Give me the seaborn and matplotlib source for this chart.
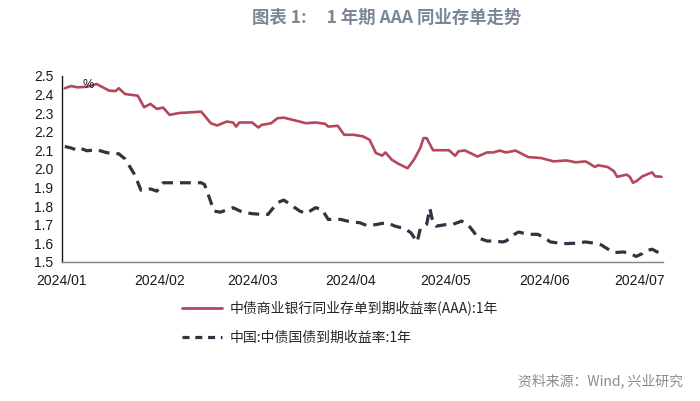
import pandas as pd
import numpy as np
import matplotlib
matplotlib.use("Agg")
import matplotlib.pyplot as plt
import matplotlib.dates as mdates
from matplotlib.ticker import FormatStrFormatter
from matplotlib.lines import Line2D
import seaborn as sns

# ---- data ----
ncd_dates = ["2024-01-02", "2024-01-04", "2024-01-06", "2024-01-09", "2024-01-12", "2024-01-14",
             "2024-01-16", "2024-01-18", "2024-01-19", "2024-01-21", "2024-01-25", "2024-01-27",
             "2024-01-29", "2024-01-31", "2024-02-02", "2024-02-04", "2024-02-07", "2024-02-14",
             "2024-02-17", "2024-02-19", "2024-02-22", "2024-02-24", "2024-02-25", "2024-02-26",
             "2024-03-01", "2024-03-03", "2024-03-04", "2024-03-07", "2024-03-09", "2024-03-11",
             "2024-03-16", "2024-03-18", "2024-03-21", "2024-03-24", "2024-03-25", "2024-03-28",
             "2024-03-30", "2024-04-02", "2024-04-05", "2024-04-07", "2024-04-09", "2024-04-11",
             "2024-04-12", "2024-04-14", "2024-04-16", "2024-04-19", "2024-04-21", "2024-04-23",
             "2024-04-24", "2024-04-25", "2024-04-27", "2024-05-02", "2024-05-04", "2024-05-05",
             "2024-05-07", "2024-05-11", "2024-05-14", "2024-05-16", "2024-05-18", "2024-05-20",
             "2024-05-23", "2024-05-27", "2024-05-31", "2024-06-04", "2024-06-08", "2024-06-11",
             "2024-06-14", "2024-06-15", "2024-06-17", "2024-06-18", "2024-06-21", "2024-06-23",
             "2024-06-24", "2024-06-27", "2024-06-28", "2024-06-29", "2024-06-30", "2024-07-02",
             "2024-07-05", "2024-07-06", "2024-07-08"]
ncd_values = [2.433, 2.445, 2.438, 2.441, 2.456, 2.438,
              2.420, 2.418, 2.433, 2.402, 2.393, 2.331,
              2.349, 2.322, 2.329, 2.290, 2.300, 2.307,
              2.245, 2.233, 2.254, 2.249, 2.227, 2.249,
              2.249, 2.222, 2.236, 2.245, 2.272, 2.275,
              2.254, 2.245, 2.249, 2.242, 2.227, 2.231,
              2.183, 2.183, 2.174, 2.156, 2.085, 2.071,
              2.088, 2.049, 2.028, 2.003, 2.049, 2.112,
              2.165, 2.165, 2.100, 2.100, 2.070, 2.094,
              2.099, 2.066, 2.088, 2.088, 2.098, 2.088,
              2.098, 2.063, 2.058, 2.040, 2.045, 2.035,
              2.040, 2.031, 2.010, 2.019, 2.010, 1.987,
              1.957, 1.969, 1.957, 1.925, 1.933, 1.960,
              1.981, 1.960, 1.957]

gov_dates = ["2024-01-02", "2024-01-04", "2024-01-06", "2024-01-07", "2024-01-09", "2024-01-12",
             "2024-01-15", "2024-01-17", "2024-01-19", "2024-01-21", "2024-01-24", "2024-01-26",
             "2024-01-29", "2024-01-31", "2024-02-02", "2024-02-14", "2024-02-15", "2024-02-16",
             "2024-02-18", "2024-02-20", "2024-02-24", "2024-02-27", "2024-03-01", "2024-03-04",
             "2024-03-06", "2024-03-09", "2024-03-11", "2024-03-13", "2024-03-16", "2024-03-18",
             "2024-03-21", "2024-03-23", "2024-03-25", "2024-03-29", "2024-03-31", "2024-04-04",
             "2024-04-06", "2024-04-09", "2024-04-11", "2024-04-13", "2024-04-15", "2024-04-18",
             "2024-04-20", "2024-04-22", "2024-04-23", "2024-04-25", "2024-04-26", "2024-04-27",
             "2024-04-28", "2024-05-01", "2024-05-03", "2024-05-06", "2024-05-08", "2024-05-10",
             "2024-05-11", "2024-05-14", "2024-05-16", "2024-05-19", "2024-05-20", "2024-05-23",
             "2024-05-24", "2024-05-27", "2024-05-30", "2024-06-01", "2024-06-03", "2024-06-06",
             "2024-06-08", "2024-06-11", "2024-06-14", "2024-06-17", "2024-06-19", "2024-06-22",
             "2024-06-23", "2024-06-26", "2024-06-28", "2024-06-30", "2024-07-02", "2024-07-03",
             "2024-07-05", "2024-07-07"]
gov_values = [2.120, 2.112, 2.100, 2.110, 2.097, 2.103,
              2.088, 2.081, 2.081, 2.053, 1.969, 1.885,
              1.892, 1.880, 1.925, 1.925, 1.916, 1.871,
              1.773, 1.767, 1.791, 1.767, 1.759, 1.755,
              1.755, 1.818, 1.832, 1.809, 1.773, 1.760,
              1.791, 1.782, 1.728, 1.728, 1.719, 1.710,
              1.696, 1.700, 1.707, 1.707, 1.692, 1.679,
              1.657, 1.607, 1.679, 1.702, 1.787, 1.710,
              1.692, 1.700, 1.700, 1.719, 1.700, 1.657,
              1.630, 1.612, 1.612, 1.607, 1.612, 1.652,
              1.660, 1.648, 1.648, 1.630, 1.607, 1.600,
              1.598, 1.600, 1.607, 1.600, 1.591, 1.559,
              1.550, 1.553, 1.546, 1.529, 1.545, 1.559,
              1.568, 1.550]

series_ncd = "中债商业银行同业存单到期收益率(AAA):1年"
series_gov = "中国:中债国债到期收益率:1年"

title_text = "图表 1:     1 年期 AAA 同业存单走势"
source_text = "资料来源：Wind, 兴业研究"
y_ticks = [1.5, 1.6, 1.7, 1.8, 1.9, 2.0, 2.1, 2.2, 2.3, 2.4, 2.5]

df = pd.concat([
    pd.DataFrame({"date": pd.to_datetime(ncd_dates), "value": ncd_values, "series": series_ncd}),
    pd.DataFrame({"date": pd.to_datetime(gov_dates), "value": gov_values, "series": series_gov}),
], ignore_index=True)

sns.set_theme(style="white")
CJK = ["Noto Sans CJK SC", "DejaVu Sans"]
plt.rcParams["font.family"] = ["Liberation Sans", "Noto Sans CJK SC", "DejaVu Sans"]

fig = plt.figure(figsize=(7.0, 4.01), dpi=100)
ax = fig.add_axes([0.088, 0.347, 0.859, 0.464])

red = "#b5475c"
dark = "#2e3542"
sns.lineplot(data=df, x="date", y="value", hue="series", style="series",
             palette={series_ncd: red, series_gov: dark},
             dashes={series_ncd: "", series_gov: (3.4, 2.2)},
             linewidth=2.0, ax=ax, legend=False)
ax.lines[0].set_linewidth(1.9)
ax.lines[1].set_linewidth(2.3)

ax.set_xlim(pd.Timestamp("2024-01-01"), pd.Timestamp("2024-07-08 10:00"))
ax.set_ylim(1.5, 2.5)
ax.set_yticks(y_ticks)
ax.yaxis.set_major_formatter(FormatStrFormatter("%.1f"))
ax.xaxis.set_major_locator(mdates.MonthLocator())
ax.xaxis.set_major_formatter(mdates.DateFormatter("%Y/%m"))
ax.set_xlabel("")
ax.set_ylabel("")
ax.grid(False)

for s in ["top", "right"]:
    ax.spines[s].set_visible(False)
ax.spines["left"].set_color("#1a1a1a")
ax.spines["left"].set_linewidth(1.0)
ax.spines["bottom"].set_color("#808080")
ax.spines["bottom"].set_linewidth(1.0)
ax.tick_params(axis="both", direction="out", length=4, width=0.9, colors="#1a1a1a",
               labelsize=10, pad=2)
ax.tick_params(axis="x", pad=5, color="#808080", labelcolor="#1a1a1a")

ax.text(0.035, 0.985, "%", transform=ax.transAxes, fontsize=9, ha="left", va="top", color="#1a1a1a")

fig.text(0.553, 0.955, title_text, ha="center", va="center", fontsize=12.5,
         color="#7b8794", family=CJK, fontweight="bold")

handles = [Line2D([], [], color=red, lw=2.0),
           Line2D([], [], color=dark, lw=2.3, dashes=(2.2, 1.8))]
fig.legend(handles, [series_ncd, series_gov], loc="upper left",
           bbox_to_anchor=(0.26, 1 - 301 / 401), frameon=False,
           prop={"family": CJK, "size": 10}, handlelength=2.9, handletextpad=0.5,
           labelspacing=1.05, borderaxespad=0, borderpad=0)

fig.text(0.976, 0.05, source_text, ha="right", va="center", fontsize=10,
         color="#8c8c8c", family=CJK)

fig.savefig("out.png", dpi=100)
